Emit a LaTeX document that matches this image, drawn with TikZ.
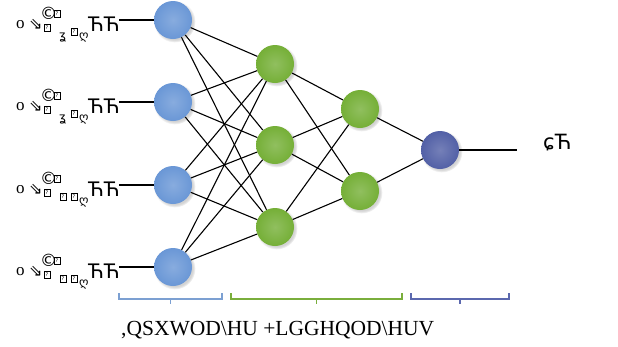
\documentclass[tikz,border=0pt]{standalone}
\usepackage{fontspec}
\setmainfont{Liberation Serif}
\newfontfamily\glyphs{DejaVu Sans}
\usetikzlibrary{shadows}
\definecolor{inblue}{HTML}{6A97D6}
\definecolor{hidgreen}{HTML}{75AF37}
\definecolor{outblue}{HTML}{5260A6}
\definecolor{brblue}{HTML}{7CA0D2}
\definecolor{brgreen}{HTML}{7AAE3C}
\definecolor{brdark}{HTML}{5B68AE}
\tikzset{
  neuron/.style={circle, minimum size=38pt, inner sep=0pt,
    inner color=#1!80!white, outer color=#1,
    circular drop shadow={shadow xshift=1.5pt, shadow yshift=-1.5pt, opacity=0.35}},
  link/.style={black, line width=1.1pt},
  brace/.style={line width=1.2pt},
  gl/.style={anchor=base west, inner sep=0pt, font=\glyphs\fontsize{#1}{#1}\selectfont},
  gl/.default=12,
  qbox/.style={draw, line width=0.4pt, inner sep=0pt, minimum width=5.5pt,
    minimum height=7pt, font=\glyphs\fontsize{5}{5}\selectfont},
}
\begin{document}
\begin{tikzpicture}[x=1pt,y=-1pt]
\useasboundingbox (0,0) rectangle (618,346);
% input layer
\node[neuron=inblue] (i1) at (173,20) {};
\node[neuron=inblue] (i2) at (173,102) {};
\node[neuron=inblue] (i3) at (173,185) {};
\node[neuron=inblue] (i4) at (173,267) {};
% hidden layers
\node[neuron=hidgreen] (h1) at (275,64) {};
\node[neuron=hidgreen] (h2) at (275,145) {};
\node[neuron=hidgreen] (h3) at (275,227) {};
\node[neuron=hidgreen] (g1) at (360,109) {};
\node[neuron=hidgreen] (g2) at (360,191) {};
% output neuron
\node[neuron=outblue] (o) at (440,150) {};
% connections
\foreach \a in {i1,i2,i3,i4}
  \foreach \b in {h1,h2,h3}
    \draw[link] (\a) -- (\b);
\foreach \a in {h1,h2,h3}
  \foreach \b in {g1,g2}
    \draw[link] (\a) -- (\b);
\foreach \a in {g1,g2}
  \draw[link] (\a) -- (o);
\coordinate (oend) at (517,150);
\draw[link] (o) -- (oend);
% input labels (baseline b) and their lines
\foreach \n/\b in {1/28,2/110,3/193,4/275}{
  \node[anchor=base west, inner sep=0pt, font=\fontsize{17}{17}\selectfont] (lo\n) at (16,\b) {o};
  \node[gl=16] (la\n) at (29,\b+1) {⇘};
  \node[gl=17] (lc\n) at (40,\b-9) {©};
  \node[qbox] (lb\n) at (57,\b-14) {?};
  \node[qbox] (ld\n) at (47,\b) {?};
  \node[qbox] (le\n) at (74,\b+4) {?};
  \node[gl=12] (lg\n) at (79,\b+11) {ღ};
  \node[gl=20] (lt\n) at (88,\b+3) {ЋЋ};
  \coordinate (s\n) at (119,\b-8);
  \draw[link] (s\n) -- (i\n);
}
\node[gl=12] (lz1) at (59,39) {ʓ};
\node[gl=12] (lz2) at (59,121) {ʓ};
\node[qbox] (ly3) at (63,197) {?};
\node[qbox] (ly4) at (63,279) {?};
% output label
\node[gl=21] (ol) at (543,149) {ɕЋ};
% braces under the layers
\draw[brace, brblue] (119,293) -- (119,299) -- (222,299) -- (222,293)
  (170.5,299) -- (170.5,304);
\draw[brace, brgreen] (231,293) -- (231,299) -- (402,299) -- (402,293)
  (316.5,299) -- (316.5,304);
\draw[brace, brdark] (411,293) -- (411,299) -- (509,299) -- (509,293)
  (460,299) -- (460,304);
% layer caption
\node[anchor=west, inner sep=0pt, font=\fontsize{21.5}{21.5}\selectfont] (cap) at (121,330) {,QSXWOD\textbackslash HU +LGGHQOD\textbackslash HUV};
\end{tikzpicture}
\end{document}
